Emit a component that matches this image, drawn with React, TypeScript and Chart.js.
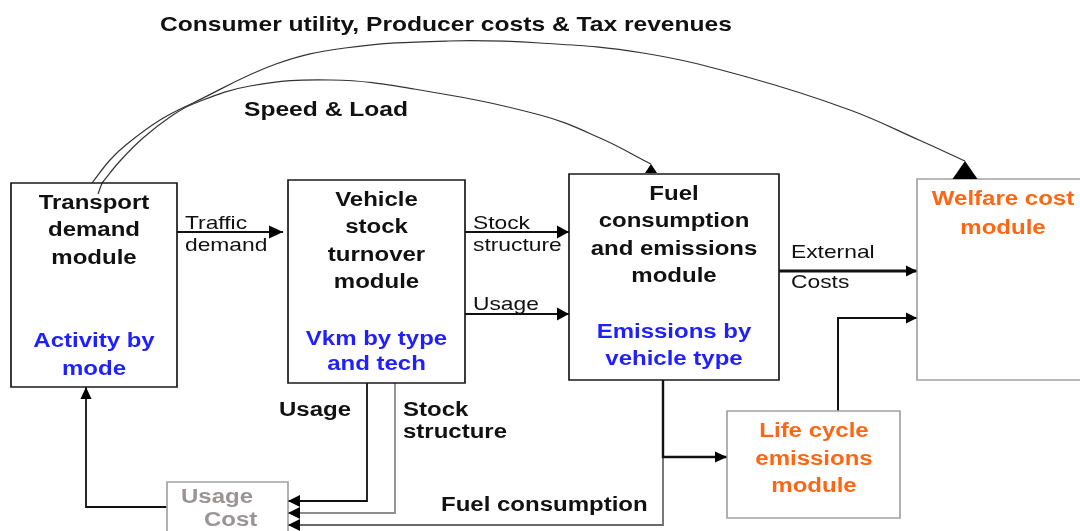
import React, { useEffect, useRef } from 'react';
import { Chart, registerables } from 'chart.js';

Chart.register(...registerables);

// ---------- data (diagram coordinates) ----------
const boxIds = ['transport', 'vehicle', 'fuel', 'welfare', 'lifecycle', 'usagecost'];
const boxLeft = [11, 288, 569, 917, 727, 167];
const boxTop = [183, 180, 174, 179, 411, 482];
const boxRight = [177, 465, 779, 1092, 900, 288];
const boxBottom = [387, 383, 380, 380, 518, 548];

const connectorIds = [
  'traffic', 'stockRight', 'usageRight', 'external', 'lcToWelfare', 'fuelToLc',
  'fuelConsumption', 'usageDown', 'stockDown', 'costToTransport', 'consumerCurve', 'speedCurve', 'speedTail',
];
const connectorPoints: number[][][] = [
  [[177, 232], [283, 232]],
  [[465, 232], [569, 232]],
  [[465, 314], [569, 314]],
  [[779, 271], [917, 271]],
  [[838, 411], [838, 318], [917, 318]],
  [[663, 380], [663, 457], [727, 457]],
  [[663, 440], [663, 525], [288, 525]],
  [[367, 383], [367, 501], [288, 501]],
  [[395, 383], [395, 513], [288, 513]],
  [[167, 507], [86, 507], [86, 387]],
  [[92, 183], [110, 160], [127, 144], [160, 120], [193, 103], [276, 64], [345, 48], [448, 41], [540, 43], [643, 53], [747, 77], [850, 110], [919, 140], [965, 161]],
  [[102, 183], [120, 161], [143, 138], [170, 117], [193, 104], [250, 86], [331, 80], [414, 89], [540, 115], [600, 138], [651, 164]],
  [[102, 183], [98, 194]],
];

const textStrings = [
  'Consumer utility, Producer costs & Tax revenues', 'Speed & Load',
  'Transport', 'demand', 'module', 'Activity by', 'mode',
  'Vehicle', 'stock', 'turnover', 'module', 'Vkm by type', 'and tech',
  'Fuel', 'consumption', 'and emissions', 'module', 'Emissions by', 'vehicle type',
  'Welfare cost', 'module',
  'Life cycle', 'emissions', 'module',
  'Usage', 'Cost',
  'Traffic', 'demand', 'Stock', 'structure', 'Usage', 'External', 'Costs',
  'Usage', 'Stock', 'structure', 'Fuel consumption',
];
const textX = [
  446, 326,
  94, 94, 94, 94, 94,
  376.5, 376.5, 376.5, 376.5, 376.5, 376.5,
  674, 674, 674, 674, 674, 674,
  1003, 1003,
  814, 814, 814,
  181, 204,
  185, 185, 473, 473, 473, 791, 791,
  279, 403, 403, 441,
];
const textY = [
  25, 110,
  203, 230.5, 258, 341.5, 369,
  200, 227.5, 255, 282.5, 339, 364.5,
  194, 221, 249, 276, 332.5, 359,
  199.5, 228,
  431.5, 459, 486.5,
  497.5, 520.5,
  224, 245.5, 224, 246, 305, 252.5, 282.5,
  410, 410, 432.5, 505,
];
const textKind = [
  'title', 'title',
  'head', 'head', 'head', 'blue', 'blue',
  'head', 'head', 'head', 'head', 'blue', 'blue',
  'head', 'head', 'head', 'head', 'blue', 'blue',
  'orange', 'orange',
  'orange', 'orange', 'orange',
  'gray', 'gray',
  'label', 'label', 'label', 'label', 'label', 'label', 'label',
  'blabel', 'blabel', 'blabel', 'blabel',
];

// ---------- styles ----------
const boxColor = ['#1a1a1a', '#1a1a1a', '#1a1a1a', '#a3a3a3', '#a3a3a3', '#a3a3a3'];
const boxWidth = [1.7, 1.7, 1.7, 1.7, 1.7, 1.7];

const connectorColor = ['#111', '#111', '#111', '#111', '#111', '#111', '#6a6a6a', '#111', '#8c8c8c', '#111', '#333', '#333', '#333'];
const connectorWidth = [1.8, 1.8, 1.8, 3, 2, 2.4, 1.8, 1.8, 1.8, 1.8, 1.2, 1.2, 1.2];
const connectorTension = [0, 0, 0, 0, 0, 0, 0, 0, 0, 0, 0.4, 0.4, 0];
const arrowKind = ['tri', 'tri', 'tri', 'tri', 'tri', 'tri', 'tri', 'tri', 'tri', 'tri', 'caret', 'caret', ''];
const arrowLen = [14, 12, 12, 11, 11, 12, 12, 12, 12, 12, 18, 9, 0];
const arrowHalf = [6.5, 6.5, 6.5, 5.5, 5.5, 5.5, 6, 6, 6, 5.5, 12.5, 6, 0];

const FONT = '"Liberation Sans", Arial, sans-serif';
const STRETCH = 1.2;
const textStyles: Record<string, { font: string; color: string }> = {
  title: { font: `bold 20.5px ${FONT}`, color: '#111' },
  head: { font: `bold 20px ${FONT}`, color: '#111' },
  blue: { font: `bold 20px ${FONT}`, color: '#1f1fff' },
  orange: { font: `bold 20px ${FONT}`, color: '#ff6614' },
  gray: { font: `bold 20px ${FONT}`, color: '#9a9494' },
  label: { font: `19px ${FONT}`, color: '#111' },
  blabel: { font: `bold 20px ${FONT}`, color: '#111' },
};
const leftAligned = new Set(['gray', 'label', 'blabel']);

const diagramPlugin = {
  id: 'diagram',
  afterDatasetsDraw(chart: any) {
    const { ctx } = chart;
    const xs = chart.scales.x;
    const ys = chart.scales.y;
    const px = (v: number) => xs.getPixelForValue(v);
    const py = (v: number) => ys.getPixelForValue(v);

    ctx.save();
    connectorIds.forEach((_, i) => {
      const kind = arrowKind[i];
      if (!kind) return;
      const pts = connectorPoints[i];
      const tip = pts[pts.length - 1];
      const prev = pts[pts.length - 2];
      const tx = px(tip[0]);
      const ty = py(tip[1]);
      const L = arrowLen[i];
      const H = arrowHalf[i];
      ctx.fillStyle = '#000';
      ctx.beginPath();
      if (kind === 'tri') {
        const ang = Math.atan2(ty - py(prev[1]), tx - px(prev[0]));
        const c = Math.cos(ang);
        const s = Math.sin(ang);
        ctx.moveTo(tx, ty);
        ctx.lineTo(tx - L * c + H * s, ty - L * s - H * c);
        ctx.lineTo(tx - L * c - H * s, ty - L * s + H * c);
      } else {
        ctx.moveTo(tx, ty);
        ctx.lineTo(tx + H, ty + L);
        ctx.lineTo(tx - H, ty + L);
      }
      ctx.closePath();
      ctx.fill();
    });

    ctx.textBaseline = 'middle';
    textStrings.forEach((t, i) => {
      const st = textStyles[textKind[i]];
      ctx.save();
      ctx.font = st.font;
      ctx.fillStyle = st.color;
      ctx.textAlign = leftAligned.has(textKind[i]) ? 'left' : 'center';
      ctx.translate(px(textX[i]), py(textY[i]));
      ctx.scale(STRETCH, 1);
      ctx.fillText(t, 0, 0);
      ctx.restore();
    });
    ctx.restore();
  },
};

export default function App() {
  const ref = useRef<HTMLCanvasElement>(null);

  useEffect(() => {
    const boxSets = boxIds.map((id, i) => ({
      label: id,
      data: [
        { x: boxLeft[i], y: boxTop[i] },
        { x: boxRight[i], y: boxTop[i] },
        { x: boxRight[i], y: boxBottom[i] },
        { x: boxLeft[i], y: boxBottom[i] },
        { x: boxLeft[i], y: boxTop[i] },
      ],
      borderColor: boxColor[i],
      borderWidth: boxWidth[i],
      borderCapStyle: 'square' as const,
      borderJoinStyle: 'miter' as const,
      pointRadius: 0,
      fill: false,
      tension: 0,
    }));
    const connSets = connectorIds.map((id, i) => ({
      label: id,
      data: connectorPoints[i].map(([x, y]) => ({ x, y })),
      borderColor: connectorColor[i],
      borderWidth: connectorWidth[i],
      pointRadius: 0,
      fill: false,
      tension: connectorTension[i],
    }));

    const chart = new Chart(ref.current as HTMLCanvasElement, {
      type: 'line',
      data: { datasets: [...boxSets, ...connSets] as any },
      options: {
        responsive: false,
        animation: false,
        events: [],
        layout: { padding: 0 },
        plugins: { legend: { display: false }, tooltip: { enabled: false } },
        scales: {
          x: { type: 'linear', min: 0, max: 1080, display: false },
          y: { type: 'linear', min: 0, max: 531, reverse: true, display: false },
        },
      },
      plugins: [diagramPlugin],
    });
    return () => chart.destroy();
  }, []);

  return (
    <div style={{ position: 'absolute', left: 0, top: 0, width: 1080, height: 531, background: '#fff' }}>
      <canvas ref={ref} width={1080} height={531} style={{ display: 'block' }} />
    </div>
  );
}
